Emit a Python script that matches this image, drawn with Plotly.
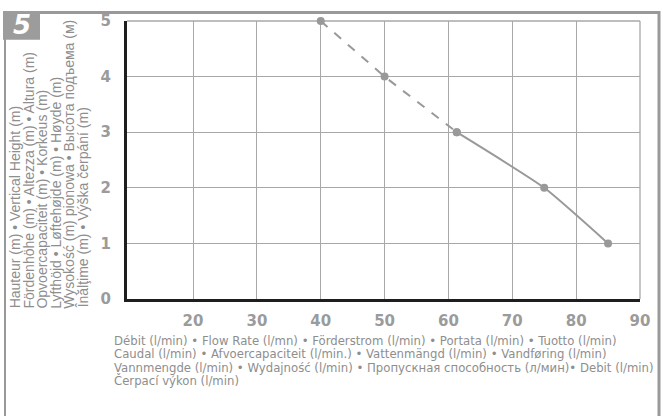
import plotly.graph_objects as go

# ---- data ----
flow_dashed = [40, 50, 61.3]
head_dashed = [5, 4, 3]
flow_solid = [61.3, 75, 85]
head_solid = [3, 2, 1]
x_ticks = [20, 30, 40, 50, 60, 70, 80, 90]
y_ticks = [0, 1, 2, 3, 4, 5]
badge_label = "5"
y_title_lines = [
    "Hauteur (m) • Vertical Height (m)",
    "Fördenhöhe (m) • Altezza (m) • Altura (m)",
    "Opvoercapaciteit (m) • Korkeus (m)",
    "Lyfthöjd • Løftehøjde (m) • Høyde (m)",
    "Wysokość (m) pionowa • Высота подъема (м)",
    "Înălţime (m) • Výška čerpání (m)",
]
x_title_lines = [
    "Débit (l/min) • Flow Rate (l/mn) • Förderstrom (l/min) • Portata (l/min) • Tuotto (l/min)",
    "Caudal (l/min) • Afvoercapaciteit (l/min.) • Vattenmängd (l/min) • Vandføring (l/min)",
    "Vannmengde (l/min) • Wydajność (l/min) • Пропускная способность (л/мин)• Debit (l/min)",
    "Čerpací výkon (l/min)",
]

W, H = 663, 416
L, R, T, B = 127, 640, 18, 299
GRAY = "#999999"
GRID = "#a8a8a8"
TEXT = "#8e8e8e"


def px(x):
    return (x - L) / (R - L)


def py(y):
    return (B - y) / (B - T)


fig = go.Figure()
fig.add_trace(go.Scatter(
    x=flow_dashed, y=head_dashed, mode="lines+markers", cliponaxis=False,
    line=dict(color=GRAY, width=2, dash="dash"),
    marker=dict(color=GRAY, size=8), hoverinfo="skip", showlegend=False))
fig.add_trace(go.Scatter(
    x=flow_solid, y=head_solid, mode="lines+markers", cliponaxis=False,
    line=dict(color=GRAY, width=2, shape="spline", smoothing=0.5),
    marker=dict(color=GRAY, size=8), hoverinfo="skip", showlegend=False))

tickfont = dict(family="DejaVu Sans", size=15, color="#9b9b9b", weight="bold")
fig.update_xaxes(range=[9.66, 90], tickvals=x_ticks, ticktext=[str(v) for v in x_ticks],
                 showgrid=True, gridcolor=GRID, gridwidth=1.3, zeroline=False,
                 showline=True, linecolor="#1e1e1e", linewidth=3,
                 ticks="", ticklabelstandoff=6, tickfont=tickfont)
fig.update_yaxes(range=[0, 5], tickvals=y_ticks, ticktext=[str(v) for v in y_ticks],
                 showgrid=True, gridcolor=GRID, gridwidth=1.3, zeroline=False,
                 showline=True, linecolor="#1e1e1e", linewidth=3,
                 ticks="", ticklabelstandoff=10, tickfont=tickfont)

shapes = [
    # top and right borders of the grid
    dict(type="line", x0=0, x1=1, y0=1, y1=1, line=dict(color=GRID, width=1.3), layer="below"),
    dict(type="line", x0=1, x1=1, y0=0, y1=1, line=dict(color=GRID, width=1.3), layer="below"),
    # outer frame
    dict(type="line", x0=px(40), x1=px(659), y0=py(9.5), y1=py(9.5), line=dict(color=GRAY, width=3)),
    dict(type="line", x0=px(659), x1=px(659), y0=py(8), y1=py(420), line=dict(color=GRAY, width=3)),
    dict(type="line", x0=px(5), x1=px(5), y0=py(36), y1=py(420), line=dict(color=GRAY, width=2)),
    # badge
    dict(type="rect", x0=px(3), x1=px(40), y0=py(8), y1=py(37), line=dict(width=0), fillcolor="#9c9c9c"),
]
for s in shapes:
    s.update(xref="paper", yref="paper")
    s.setdefault("layer", "above")

ann = [dict(text=badge_label, x=px(21.5), y=py(22.5), xref="paper", yref="paper",
            showarrow=False, xanchor="center", yanchor="middle",
            font=dict(family="DejaVu Sans", size=26, color="white", weight="bold", style="italic"))]
for i, t in enumerate(y_title_lines):
    ann.append(dict(text=t, x=px(15 + 13.6 * i), y=py(311), xref="paper", yref="paper",
                    showarrow=False, textangle=-90, xanchor="center", yanchor="bottom",
                    font=dict(family="Liberation Sans", size=14, color=TEXT)))
for i, t in enumerate(x_title_lines):
    ann.append(dict(text=t, x=px(112), y=py(340.5 + 13.7 * i), xref="paper", yref="paper",
                    showarrow=False, xanchor="left", yanchor="middle",
                    font=dict(family="DejaVu Sans Condensed", size=13, color=TEXT)))

fig.update_layout(width=W, height=H, margin=dict(l=L, r=W - R, t=T, b=H - B),
                  paper_bgcolor="white", plot_bgcolor="white",
                  shapes=shapes, annotations=ann)
fig.write_html("out.html", config={"displayModeBar": False},
               post_script="document.body.style.margin='0';document.body.style.overflow='hidden';")
